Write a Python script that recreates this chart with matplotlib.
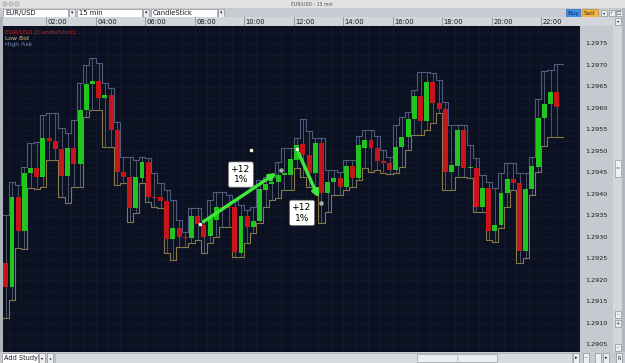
import matplotlib.pyplot as plt
import numpy as np
import pandas as pd
from matplotlib.patches import Rectangle, Circle

# EUR/USD 15 min candles
opens = [1.29240, 1.29184, 1.29394, 1.29315, 1.29450, 1.29461, 1.29440, 1.29531, 1.29524, 1.29505,
         1.29443, 1.29508, 1.29470, 1.29596, 1.29657, 1.29664, 1.29624, 1.29631, 1.29550, 1.29452,
         1.29440, 1.29368, 1.29438, 1.29475, 1.29394, 1.29394, 1.29384, 1.29296, 1.29322, 1.29301,
         1.29298, 1.29350, 1.29329, 1.29303, 1.29340, 1.29371, 1.29371, 1.29371, 1.29264, 1.29350,
         1.29324, 1.29338, 1.29410, 1.29424, 1.29429, 1.29445, 1.29445, 1.29480, 1.29517, 1.29491,
         1.29450, 1.29519, 1.29403, 1.29429, 1.29438, 1.29417, 1.29466, 1.29438, 1.29508, 1.29526,
         1.29508, 1.29477, 1.29473, 1.29457, 1.29510, 1.29533, 1.29575, 1.29629, 1.29571, 1.29661,
         1.29612, 1.29599, 1.29452, 1.29466, 1.29550, 1.29461, 1.29461, 1.29371, 1.29415, 1.29315,
         1.29329, 1.29403, 1.29436, 1.29426, 1.29268, 1.29412, 1.29464, 1.29578, 1.29610, 1.29638]
closes = [1.29184, 1.29394, 1.29315, 1.29450, 1.29461, 1.29440, 1.29531, 1.29524, 1.29505, 1.29443,
          1.29508, 1.29470, 1.29596, 1.29657, 1.29664, 1.29624, 1.29631, 1.29550, 1.29452, 1.29440,
          1.29368, 1.29440, 1.29475, 1.29394, 1.29391, 1.29384, 1.29296, 1.29322, 1.29301, 1.29298,
          1.29350, 1.29331, 1.29301, 1.29347, 1.29371, 1.29368, 1.29368, 1.29266, 1.29350, 1.29324,
          1.29338, 1.29412, 1.29424, 1.29429, 1.29445, 1.29450, 1.29482, 1.29515, 1.29491, 1.29450,
          1.29519, 1.29403, 1.29429, 1.29438, 1.29417, 1.29466, 1.29438, 1.29515, 1.29526, 1.29508,
          1.29477, 1.29473, 1.29457, 1.29510, 1.29533, 1.29575, 1.29629, 1.29571, 1.29661, 1.29612,
          1.29599, 1.29452, 1.29468, 1.29550, 1.29461, 1.29463, 1.29371, 1.29415, 1.29315, 1.29329,
          1.29403, 1.29436, 1.29426, 1.29268, 1.29412, 1.29466, 1.29578, 1.29610, 1.29638, 1.29603]
high_ask = [1.29352, 1.29429, 1.29422, 1.29464, 1.29519, 1.29522, 1.29585, 1.29589, 1.29589, 1.29554,
            1.29543, 1.29573, 1.29659, 1.29701, 1.29717, 1.29705, 1.29659, 1.29647, 1.29568, 1.29487,
            1.29487, 1.29480, 1.29487, 1.29485, 1.29450, 1.29426, 1.29410, 1.29387, 1.29340, 1.29312,
            1.29368, 1.29368, 1.29340, 1.29387, 1.29405, 1.29405, 1.29398, 1.29387, 1.29375, 1.29364,
            1.29371, 1.29433, 1.29440, 1.29440, 1.29475, 1.29508, 1.29508, 1.29531, 1.29575, 1.29547,
            1.29531, 1.29531, 1.29457, 1.29457, 1.29452, 1.29480, 1.29480, 1.29536, 1.29550, 1.29550,
            1.29536, 1.29503, 1.29487, 1.29561, 1.29580, 1.29591, 1.29643, 1.29685, 1.29685, 1.29682,
            1.29666, 1.29615, 1.29561, 1.29561, 1.29561, 1.29515, 1.29485, 1.29445, 1.29429, 1.29415,
            1.29450, 1.29473, 1.29473, 1.29450, 1.29450, 1.29487, 1.29622, 1.29687, 1.29689, 1.29703]
low_bid = [1.29112, 1.29154, 1.29275, 1.29273, 1.29415, 1.29412, 1.29417, 1.29480, 1.29480, 1.29394,
           1.29380, 1.29417, 1.29417, 1.29580, 1.29596, 1.29596, 1.29510, 1.29510, 1.29422, 1.29426,
           1.29336, 1.29357, 1.29426, 1.29382, 1.29371, 1.29368, 1.29264, 1.29247, 1.29278, 1.29278,
           1.29287, 1.29294, 1.29264, 1.29287, 1.29301, 1.29324, 1.29324, 1.29254, 1.29254, 1.29287,
           1.29310, 1.29333, 1.29371, 1.29387, 1.29391, 1.29410, 1.29410, 1.29461, 1.29440, 1.29417,
           1.29417, 1.29333, 1.29359, 1.29398, 1.29398, 1.29410, 1.29417, 1.29433, 1.29461, 1.29452,
           1.29457, 1.29450, 1.29447, 1.29450, 1.29464, 1.29503, 1.29538, 1.29538, 1.29550, 1.29566,
           1.29589, 1.29410, 1.29410, 1.29440, 1.29440, 1.29438, 1.29359, 1.29359, 1.29294, 1.29289,
           1.29322, 1.29371, 1.29410, 1.29240, 1.29252, 1.29398, 1.29452, 1.29512, 1.29533, 1.29533]

time_labels = ['02:00', '04:00', '06:00', '08:00', '10:00', '12:00',
               '14:00', '16:00', '18:00', '20:00', '22:00']
price_ticks = np.arange(1.2905, 1.29751, 0.0005)

# drawn trend arrows (hour, price)
move_t0 = [8.22, 12.13]
move_p0 = [1.29331, 1.29505]
move_t1 = [11.49, 13.10]
move_p1 = [1.29457, 1.29380]
label_t = [9.87, 12.34]
label_p = [1.29446, 1.29357]
label_txt = ['+12\n1%', '+12\n1%']

times = pd.date_range('2011-06-01 00:15', periods=len(opens), freq='15min')
hrs = np.asarray(times.hour + times.minute / 60.0) + 0.125

W, H = 625, 363
fig = plt.figure(figsize=(6.25, 3.63), dpi=100)
fig.patch.set_facecolor('#c9cdd3')


def frac(x0, y0, x1, y1):
    return [x0 / W, 1 - y1 / H, (x1 - x0) / W, (y1 - y0) / H]


ui = fig.add_axes([0, 0, 1, 1])
ui.set_xlim(0, W)
ui.set_ylim(H, 0)
ui.axis('off')


def rect(x0, y0, x1, y1, fc, ec='none', lw=0.5):
    ui.add_patch(Rectangle((x0, y0), x1 - x0, y1 - y0, facecolor=fc, edgecolor=ec, lw=lw))


def txt(x, y, s, size=5, color='#1a1a1a', ha='left'):
    ui.text(x, y, s, fontsize=size, color=color, ha=ha, va='center')


# window title bar
rect(0, 0, W, 8, '#e2e2e2')
for cx in [5, 11, 17]:
    ui.add_patch(Circle((cx, 4), 2.1, facecolor='#cfcfcf', edgecolor='#9a9a9a', lw=0.4))
txt(312, 4, 'EUR/USD - 15 min', size=3.3, color='#555555', ha='center')

# toolbar
rect(0, 8, W, 17, '#c7cbd1')
for x0, x1, s in [(3, 68, 'EUR/USD'), (77, 142, '15 min'), (151, 217, 'CandleStick')]:
    rect(x0, 9.3, x1, 16.6, 'white', '#8d9196', 0.5)
    rect(x1 + 1, 9.3, x1 + 7, 16.6, '#eceef0', '#8d9196', 0.5)
    txt(x0 + 2, 13.1, s, size=4.9)
    txt(x1 + 4, 13.0, '▾', size=3.5, ha='center')
rect(566, 9.3, 580, 16.8, '#3d8fe6', '#2c6bb0', 0.5)
txt(573, 13.1, 'Buy', size=4.6, color='#0b2a66', ha='center')
rect(582, 9.3, 598, 16.8, '#f3b64a', '#b8862e', 0.5)
txt(590, 13.1, 'Sell', size=4.6, color='#4a2a00', ha='center')
for x0, s in [(601, '▾'), (608.5, '✓'), (616, '□')]:
    rect(x0, 10, x0 + 6, 16.4, '#eceef0', '#8d9196', 0.5)
    txt(x0 + 3, 13.1, s, size=3.2, ha='center')

# time strip and price panel
rect(0, 17, W, 26, '#d2d5da')
rect(0, 17, 3, 352, '#aeb3ba')
rect(580, 26, 613, 352, '#c5cad1')
rect(613, 17, 622, 352, '#d3d6db')
rect(622, 8, W, 363, '#b3b7bd')
rect(614.5, 18, 621, 24.5, '#eceef0', '#8d9196', 0.5)
txt(617.8, 21.2, '▾', size=3.2, ha='center')
rect(614.5, 160, 621, 177, '#eef0f2', '#9a9ea4', 0.5)
txt(617.8, 168.5, '=', size=3.5, color='#666666', ha='center')
for y0, s in [(311, '-'), (320, '+'), (344, '-')]:
    rect(614.5, y0, 621, y0 + 7, '#eceef0', '#8d9196', 0.5)
    txt(617.8, y0 + 3.5, s, size=3.5, ha='center')

# bottom bar
rect(0, 352, W, H, '#c7cbd1')
rect(2, 353.3, 38, 362.5, 'white', '#8d9196', 0.5)
txt(4, 358, 'Add Study', size=4.7)
rect(39, 353.3, 45, 362.5, '#eceef0', '#8d9196', 0.5)
txt(42, 358, '▾', size=3.2, ha='center')
rect(47, 353.3, 53, 362.5, '#eceef0', '#8d9196', 0.5)
txt(50, 358, '◂', size=3.2, ha='center')
rect(55, 353.3, 572, 362.5, '#d7dadf', '#a0a4aa', 0.4)
rect(417, 353.8, 497, 362, '#eceef0', '#9a9ea4', 0.5)
txt(457, 358, '|', size=3.5, color='#777777', ha='center')
for x0, s in [(573, '▸'), (583, '-'), (595, ''), (603, '▸'), (616, 'R')]:
    rect(x0, 353.3, x0 + 6, 362.5, '#eceef0', '#8d9196', 0.5)
    txt(x0 + 3, 358, s, size=3.6, ha='center')

# time axis
tax = fig.add_axes(frac(3, 17, 580, 26))
tax.set_xlim(0.262, 23.566)
tax.set_ylim(0, 1)
tax.axis('off')
for i, lab in enumerate(time_labels):
    h = 2 * (i + 1)
    tax.axvline(h, color='#8f949b', lw=0.6)
    tax.text(h + 0.06, 0.45, lab, fontsize=4.9, color='#1a1a1a', va='center', ha='left')

# price chart
ax = fig.add_axes(frac(3, 26, 580, 352))
ax.set_facecolor('#0b1121')
ax.set_xlim(0.262, 23.566)
ax.set_ylim(1.290333, 1.297915)
for p in np.arange(1.2900, 1.2982, 0.00025):
    ax.axhline(p, color='#141c30', lw=0.5, zorder=0)
for h in np.arange(0, 24, 0.5):
    ax.axvline(h, color='#141c30', lw=0.5, zorder=0)
ax.set_xticks([])
ax.set_yticks([])
for s in ax.spines.values():
    s.set_visible(False)

opens_a = np.array(opens)
closes_a = np.array(closes)
ext_h = np.concatenate([[hrs[0] - 0.25], hrs, [hrs[-1] + 0.25]])
ax.plot(ext_h, [high_ask[0]] + high_ask + [high_ask[-1]], drawstyle='steps-mid',
        color='#4d5c80', lw=0.8, zorder=2)
ax.plot(ext_h, [low_bid[0]] + low_bid + [low_bid[-1]], drawstyle='steps-mid',
        color='#8a784a', lw=0.8, zorder=2)
ax.vlines(hrs, low_bid, high_ask, color='#586174', lw=0.6, zorder=3)

up = closes_a >= opens_a
bottoms = np.minimum(opens_a, closes_a)
heights = np.maximum(np.abs(closes_a - opens_a), 0.00003)
ax.bar(hrs[up], heights[up], bottom=bottoms[up], width=0.2, color='#22c41f', zorder=4)
ax.bar(hrs[~up], heights[~up], bottom=bottoms[~up], width=0.2, color='#c8151b', zorder=4)

# legend text
ax.text(0.004, 0.988, 'EUR/USD (CandleStick)', transform=ax.transAxes, fontsize=4.4,
        color='#d0201e', va='top')
ax.text(0.004, 0.969, 'Low Bid', transform=ax.transAxes, fontsize=4.4, color='#d9c27a', va='top')
ax.text(0.004, 0.950, 'High Ask', transform=ax.transAxes, fontsize=4.4, color='#7388b8', va='top')

# annotations
for t0, p0, t1, p1 in zip(move_t0, move_p0, move_t1, move_p1):
    ax.annotate('', xy=(t1, p1), xytext=(t0, p0),
                arrowprops=dict(arrowstyle='-|>', color='#3fe83a', lw=2.4,
                                mutation_scale=9, shrinkA=3, shrinkB=4), zorder=6)
    ax.plot(t0, p0, 's', ms=1.6, color='#f2f2f2', zorder=7)
    ax.plot(t1, p1, 'o', ms=2.2, color='#9fb4a4', zorder=7)
ax.plot(10.28, 1.29503, 's', ms=1.8, color='#f4f0da', zorder=7)
for t, p, s in zip(label_t, label_p, label_txt):
    ax.text(t, p, s, fontsize=6.6, color='black', ha='center', va='center', linespacing=1.25,
            bbox=dict(boxstyle='round,pad=0.3,rounding_size=0.2', fc='white', ec='#777777', lw=0.5),
            zorder=8)

# price labels
pax = fig.add_axes(frac(580, 26, 613, 352))
pax.set_ylim(1.290333, 1.297915)
pax.set_xlim(0, 1)
pax.axis('off')
for p in price_ticks:
    pax.text(0.5, p, f'{p:.4f}', fontsize=4.6, color='#1a1a1a', ha='center', va='center')

plt.savefig('out.png', dpi=100)
